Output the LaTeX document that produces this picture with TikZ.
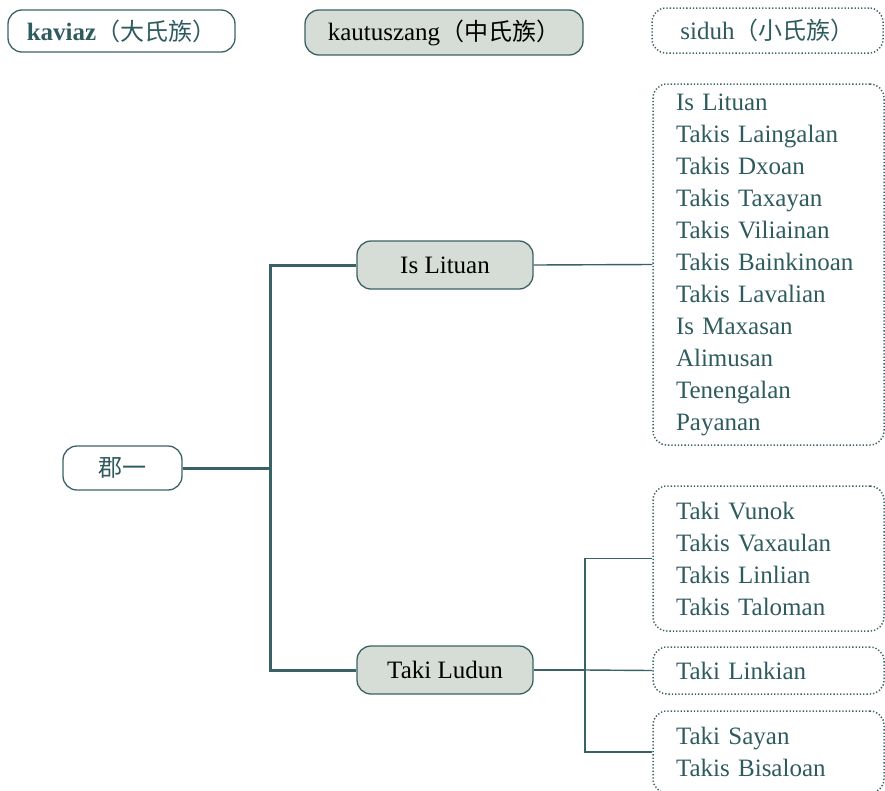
\documentclass[tikz,border=0pt]{standalone}
\usepackage{fontspec}
\setmainfont{Liberation Serif}
\newfontfamily\cjk[Scale=0.96]{Noto Sans CJK TC}
\definecolor{teal1}{HTML}{2F5B5F}
\definecolor{line1}{HTML}{3A6266}
\definecolor{fill1}{HTML}{D6DDD6}
\begin{document}
\begin{tikzpicture}[x=1pt,y=-1pt,
  base/.style={rounded corners=14pt, line width=1.3pt, draw=line1, inner sep=0pt, font=\fontsize{25}{32}\selectfont},
  headbox/.style={base, text=teal1},
  midbox/.style={base, fill=fill1, text=black},
  leafbox/.style={base, dotted, line width=1.5pt, text=teal1, align=left, inner xsep=23pt, text width=185pt},
  thick1/.style={line width=3pt, draw=line1},
  thin1/.style={line width=1.4pt, draw=line1}]
\useasboundingbox (0,0) rectangle (885,790);
% headings
\node[headbox, minimum width=227pt, minimum height=42pt] (h1) at (121.5,31) {\textbf{kaviaz}{\cjk （大氏族）}};
\node[midbox, minimum width=278pt, minimum height=45pt] (h2) at (444,32.5) {kautuszang{\cjk （中氏族）}};
\node[headbox, dotted, line width=1.5pt, minimum width=231pt, minimum height=45pt] (h3) at (767.5,30.5) {siduh{\cjk （小氏族）}};
% tree
\node[headbox, minimum width=119pt, minimum height=44pt] (root) at (122.5,468) {\cjk 郡一};
\node[midbox, minimum width=176pt, minimum height=48pt] (is) at (445,265) {Is Lituan};
\node[midbox, minimum width=176pt, minimum height=48pt] (tl) at (445,670) {Taki Ludun};
\node[leafbox, minimum height=361pt] (L1) at (768.5,264.5) {Is Lituan\\Takis Laingalan\\Takis Dxoan\\Takis Taxayan\\Takis Viliainan\\Takis Bainkinoan\\Takis Lavalian\\Is Maxasan\\Alimusan\\Tenengalan\\Payanan};
\node[leafbox, minimum height=145pt] (L2) at (768.5,558.5) {Taki Vunok\\Takis Vaxaulan\\Takis Linlian\\Takis Taloman};
\node[leafbox, minimum height=47pt] (L3) at (768.5,670.5) {Taki Linkian};
\node[leafbox, minimum height=82pt] (L4) at (768.5,752) {Taki Sayan\\Takis Bisaloan};
\coordinate (j1) at (270,468);
\coordinate (j2) at (585,670);
\draw[thick1] (root.east) -- (j1);
\draw[thick1] (j1) |- (is.west);
\draw[thick1] (j1) |- (tl.west);
\draw[thin1] (is.east) -- (L1.west);
\draw[thin1] (tl.east) -- (j2);
\draw[thin1] (j2) |- (L2.west);
\draw[thin1] (j2) -- (L3.west);
\draw[thin1] (j2) |- (L4.west);
\end{tikzpicture}
\end{document}
